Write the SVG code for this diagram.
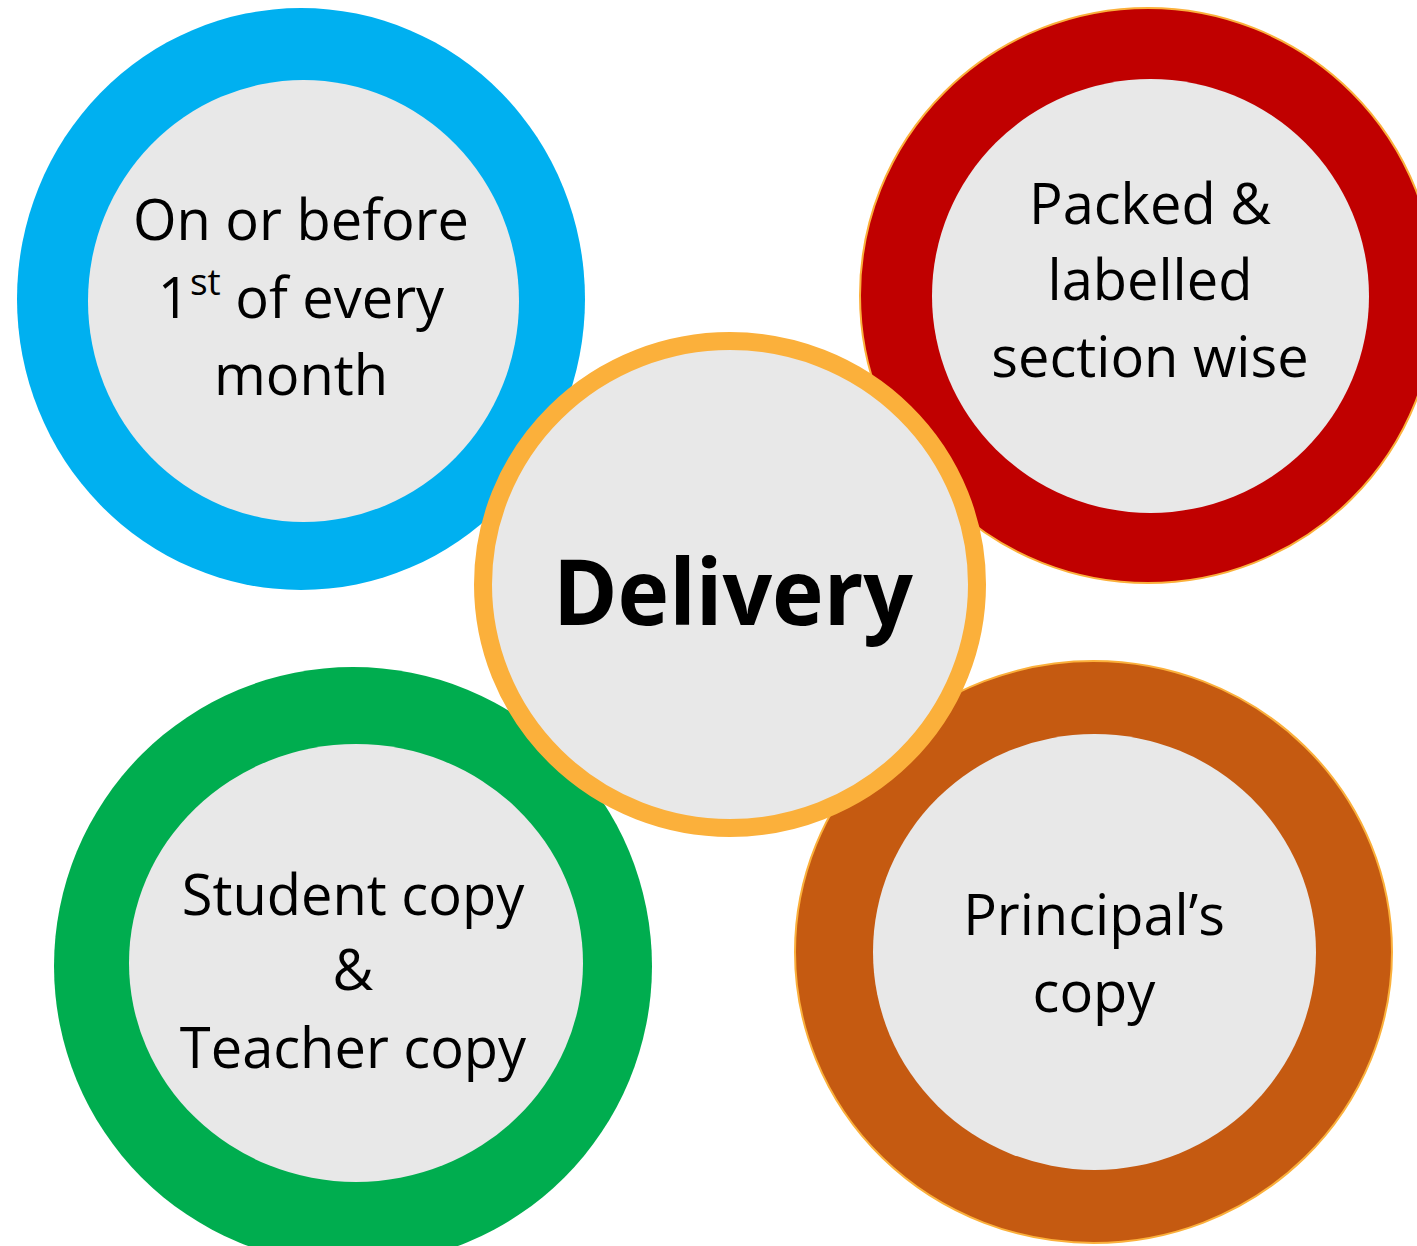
<svg xmlns="http://www.w3.org/2000/svg" width="1417" height="1246" viewBox="0 0 1417 1246">
<style>
.in{fill:#E8E8E8}
.t{font-family:"Open Sans","Noto Sans",sans-serif;font-size:56px;fill:#000;text-anchor:middle}
.b{font-family:"Open Sans","Noto Sans",sans-serif;font-weight:bold;font-size:92px;fill:#000;text-anchor:middle}
</style>
<rect width="1417" height="1246" fill="#fff"/>
<g id="node-blue">
<ellipse cx="301" cy="299" rx="284" ry="291" fill="#00B0F0"/>
<ellipse class="in" cx="303.5" cy="301" rx="215.5" ry="221"/>
<text class="t" x="301" y="240">On or before</text>
<text class="t" x="301" y="318">1<tspan font-size="37" dy="-23">st</tspan><tspan dy="23"> of every</tspan></text>
<text class="t" x="301" y="395">month</text>
</g>
<g id="node-red">
<ellipse cx="1148" cy="295.5" rx="288" ry="287.5" fill="#C00000" stroke="#FBB03B" stroke-width="2"/>
<ellipse class="in" cx="1150.5" cy="296" rx="218.5" ry="217"/>
<text class="t" x="1150" y="224">Packed &amp;</text>
<text class="t" x="1150" y="300">labelled</text>
<text class="t" x="1150" y="377">section wise</text>
</g>
<g id="node-green">
<ellipse cx="353" cy="966" rx="299" ry="299" fill="#00AD4F"/>
<ellipse class="in" cx="356" cy="963" rx="227" ry="219"/>
<text class="t" x="353" y="915">Student copy</text>
<text class="t" x="353" y="990">&amp;</text>
<text class="t" x="353" y="1068">Teacher copy</text>
</g>
<g id="node-brown">
<ellipse cx="1093.5" cy="952" rx="298.5" ry="291" fill="#C55A11" stroke="#FBB03B" stroke-width="2"/>
<ellipse class="in" cx="1094.5" cy="952" rx="221.5" ry="218"/>
<text class="t" x="1094" y="935">Principal’s</text>
<text class="t" x="1094" y="1012">copy</text>
</g>
<g id="node-center">
<ellipse cx="730" cy="584.5" rx="247" ry="243.5" fill="#E8E8E8" stroke="#FBB03B" stroke-width="18"/>
<text class="b" x="733" y="625" textLength="360" lengthAdjust="spacingAndGlyphs">Delivery</text>
</g>
<g id="connectors"/>
</svg>
